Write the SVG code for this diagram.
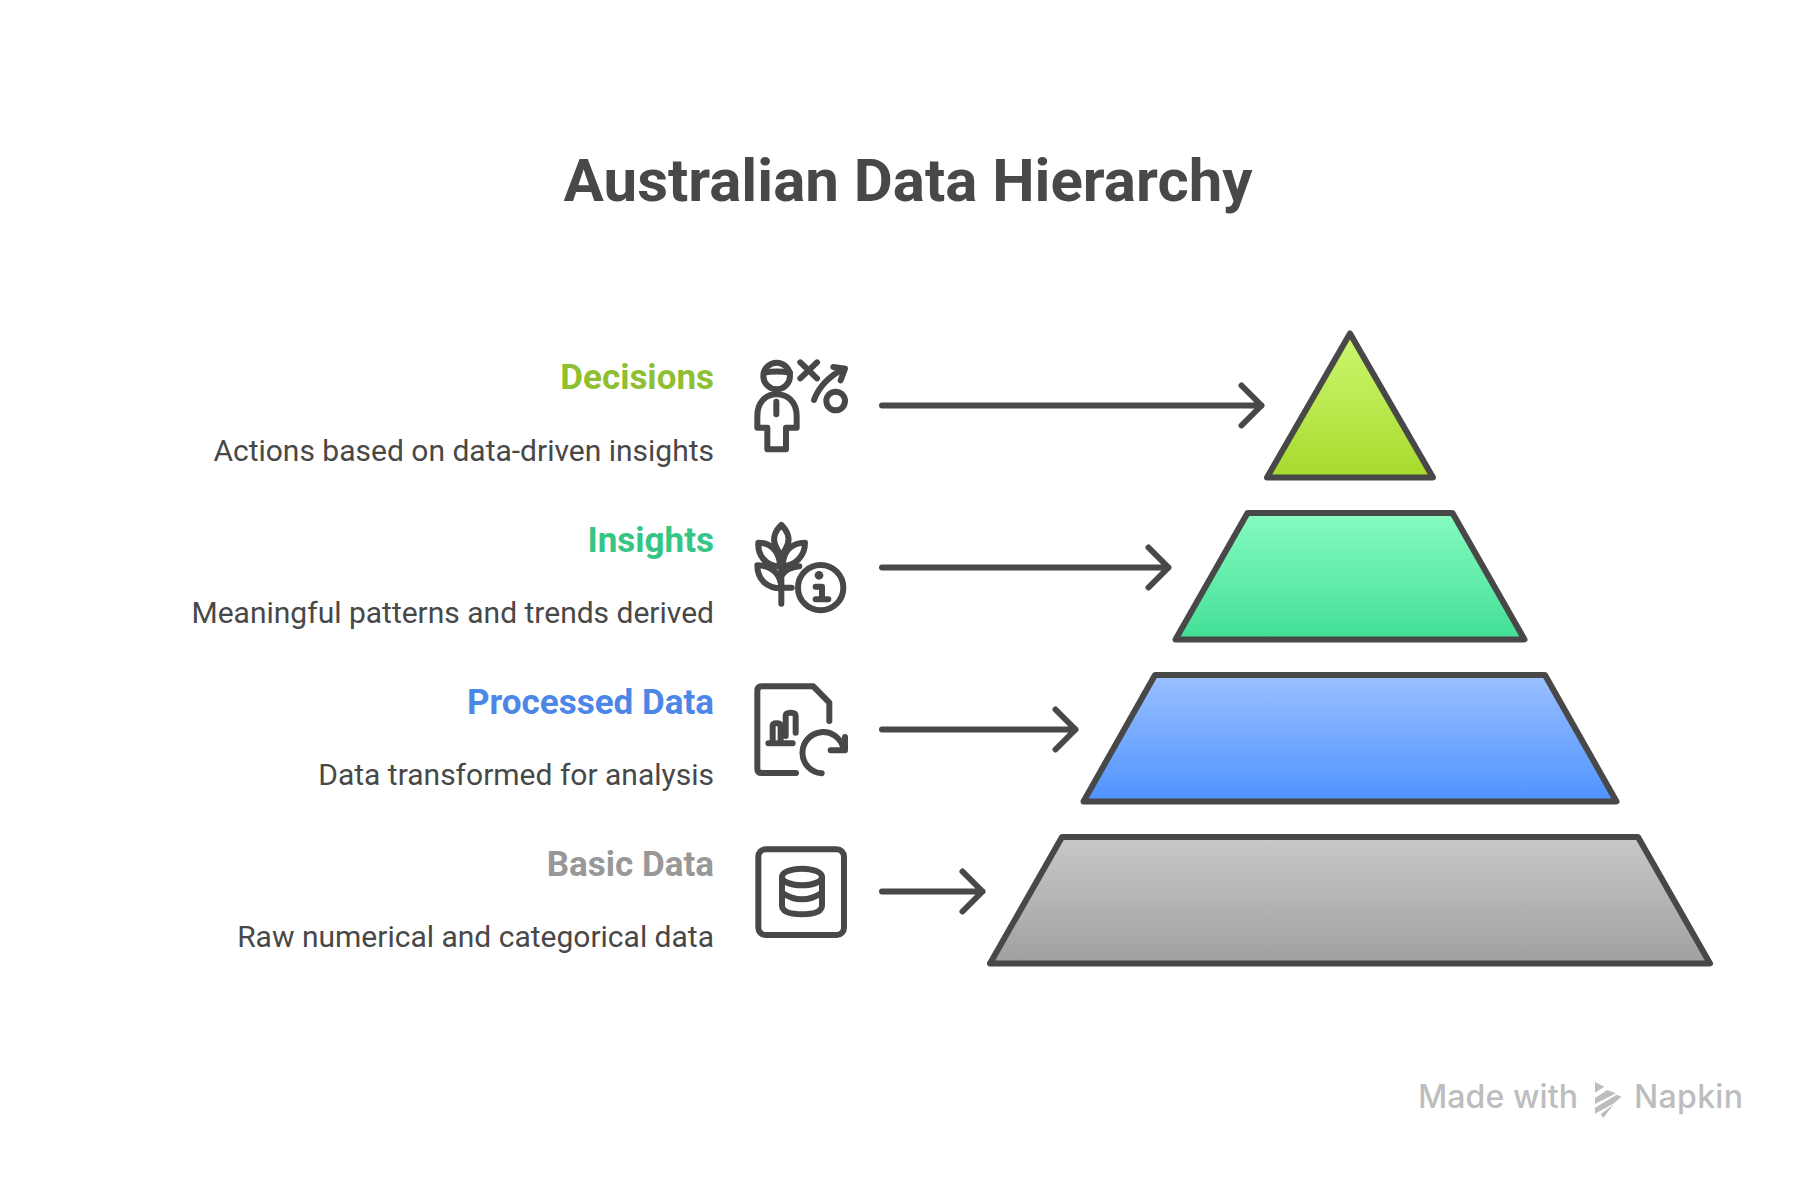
<svg xmlns="http://www.w3.org/2000/svg" width="1815" height="1179" viewBox="0 0 1815 1179">
<style>
text{font-family:Roboto,"Liberation Sans",sans-serif}
.t{font-size:60px;font-weight:700;fill:#484848;text-anchor:middle}
.h{font-size:35px;font-weight:700;text-anchor:end}
.d{font-size:30px;fill:#484848;text-anchor:end}
.s{stroke:#484848;stroke-width:6;stroke-linejoin:round;stroke-linecap:round}
.c{fill:none;stroke:#484848;stroke-width:6;stroke-linecap:round;stroke-linejoin:round}
.i{fill:none;stroke:#484848;stroke-width:18;stroke-linecap:round;stroke-linejoin:round}
.w{font-size:32px;font-weight:500;fill:#bdbdbd;font-family:Inter,"Open Sans",sans-serif}
</style>
<defs>
<linearGradient id="g1" x1="0" y1="0" x2="0" y2="1"><stop offset="0" stop-color="#cdf870"/><stop offset="1" stop-color="#a6da2c"/></linearGradient>
<linearGradient id="g2" x1="0" y1="0" x2="0" y2="1"><stop offset="0" stop-color="#86fbc0"/><stop offset="1" stop-color="#42df96"/></linearGradient>
<linearGradient id="g3" x1="0" y1="0" x2="0" y2="1"><stop offset="0" stop-color="#9ac0ff"/><stop offset="1" stop-color="#4f93ff"/></linearGradient>
<linearGradient id="g4" x1="0" y1="0" x2="0" y2="1"><stop offset="0" stop-color="#c8c8c8"/><stop offset="1" stop-color="#a0a0a0"/></linearGradient>
</defs>
<rect width="1815" height="1179" fill="#fff"/>
<text class="t" x="908" y="201">Australian Data Hierarchy</text>
<g id="decisions">
<polygon class="s" fill="url(#g1)" points="1350,333.5 1433,477.5 1267,477.5"/>
<text class="h" x="714" y="389" fill="#8fbf33">Decisions</text>
<text class="d" x="714" y="461">Actions based on data-driven insights</text>
<g transform="translate(720 331) scale(.3333)">
<circle class="i" cx="170" cy="135" r="40"/><path class="i" d="M132 125Q170 118 210 125"/>
<path class="i" d="M112 290V255C112 215 135 190 170 190C205 190 230 215 230 255V290H198V355H142V290Z"/><path class="i" d="M169 212V250"/>
<path class="i" d="M241 94L291 142M291 94L241 142"/><path class="i" d="M282 207C295 170 320 140 372 112M340 108L375 113L362 148"/><circle class="i" cx="347" cy="210" r="28"/>
</g></g>
<g id="insights">
<polygon class="s" fill="url(#g2)" points="1247.5,513 1452.5,513 1524.5,639.5 1175.5,639.5"/>
<text class="h" x="714" y="551.5" fill="#36c583">Insights</text>
<text class="d" x="714" y="623">Meaningful patterns and trends derived</text>
<g transform="translate(720 331) scale(.3333)">
<path class="i" d="M184 582C165 600 158 622 165 640C170 655 178 665 184 675C190 665 198 655 203 640C210 622 203 600 184 582Z"/>
<path class="i" d="M115 635C112 670 135 705 180 707C180 670 160 635 115 635Z"/><path class="i" d="M255 635C215 635 190 660 188 705C225 705 255 675 255 635Z"/>
<path class="i" d="M112 703C112 745 140 772 184 772C184 735 160 703 112 703Z"/><path class="i" d="M184 700V818M184 770H215M184 735C195 716 215 708 238 706"/>
<circle class="i" cx="302" cy="770" r="68"/><circle cx="297" cy="733" r="13" fill="#484848"/><path class="i" d="M287 767H306V805M287 805H325"/>
</g></g>
<g id="processed">
<polygon class="s" fill="url(#g3)" points="1155,675 1545,675 1616.5,801.5 1083.5,801.5"/>
<text class="h" x="714" y="714" fill="#4c87e8">Processed Data</text>
<text class="d" x="714" y="785">Data transformed for analysis</text>
<g transform="translate(720 661) scale(.3333)">
<path class="i" d="M228 336H125Q112 336 112 323V90Q112 76 125 76H280L328 125V180"/>
<path class="i" d="M145 247H218M158 240V195Q158 187 170 187Q182 187 182 195V240M197 225V165Q197 155 212 155Q227 155 227 165V215"/>
<path class="i" d="M305 337A62 62 0 1 1 370 262M332 268H375V228"/>
</g></g>
<g id="basic">
<polygon class="s" fill="url(#g4)" points="1062,837 1638,837 1710,963.5 990,963.5"/>
<text class="h" x="714" y="876" fill="#989898">Basic Data</text>
<text class="d" x="714" y="947">Raw numerical and categorical data</text>
<g transform="translate(720 661) scale(.3333)">
<rect class="i" x="115" y="565" width="257" height="257" rx="22"/>
<ellipse class="i" cx="246" cy="648" rx="60" ry="25"/>
<path class="i" d="M186 648V733Q186 760 246 760Q306 760 306 733V648M186 695Q246 735 306 695"/>
</g></g>
<g id="connectors">
<path class="c" d="M882 405.5H1261.5M1241.5 385.5L1261.5 405.5L1241.5 425.5"/>
<path class="c" d="M882 567.5H1168.5M1148.5 547.5L1168.5 567.5L1148.5 587.5"/>
<path class="c" d="M882 729.5H1075.5M1055.5 709.5L1075.5 729.5L1055.5 749.5"/>
<path class="c" d="M882 891.5H982.5M962.5 871.5L982.5 891.5L962.5 911.5"/>
</g>
<g id="watermark">
<text class="w" x="1418" y="1108" textLength="160">Made with</text>
<text class="w" x="1634" y="1108" textLength="109">Napkin</text>
<g transform="translate(1400 1062) scale(.3333)" fill="#bdbdbd">
<polygon points="585,60 613,74 585,92"/><polygon points="585,108 622,84 648,94 585,126"/><polygon points="585,137 650,98 665,104 640,125 585,155"/><polygon points="602,156 640,128 610,168"/>
</g></g>
</svg>
